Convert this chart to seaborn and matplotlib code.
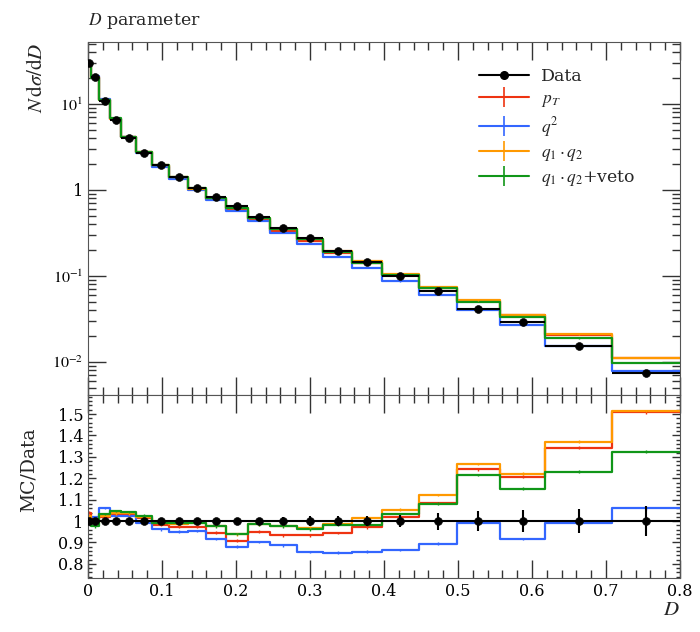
import numpy as np
import pandas as pd
import matplotlib
matplotlib.use('Agg')
import matplotlib.pyplot as plt
import seaborn as sns
from matplotlib.lines import Line2D
from matplotlib.ticker import MultipleLocator, LogLocator, FuncFormatter, NullFormatter

# D parameter: bin edges, data and MC/Data ratios
edges = [0, 0.004, 0.015, 0.03, 0.045, 0.065, 0.087, 0.11, 0.135, 0.16, 0.186, 0.216,
         0.246, 0.282, 0.318, 0.357, 0.397, 0.447, 0.498, 0.557, 0.618, 0.708, 0.80]
data_vals = [30.0, 20.6, 10.8, 6.5, 4.0, 2.7, 1.95, 1.42, 1.05, 0.83, 0.65, 0.485,
             0.361, 0.277, 0.195, 0.146, 0.100, 0.067, 0.041, 0.029, 0.0153, 0.0074]
data_relerr = [0.01, 0.01, 0.01, 0.01, 0.01, 0.01, 0.01, 0.01, 0.01, 0.012, 0.014, 0.016,
               0.018, 0.022, 0.023, 0.025, 0.03, 0.04, 0.048, 0.05, 0.057, 0.07]

ratio_pt = [1.039, 1.01, 1.02, 1.028, 1.028, 1.012, 0.981, 0.974, 0.974, 0.946, 0.908, 0.95,
            0.933, 0.933, 0.945, 0.97, 1.017, 1.085, 1.241, 1.207, 1.343, 1.508]
ratio_q2 = [1.02, 1.02, 1.061, 1.023, 1.023, 0.992, 0.961, 0.95, 0.953, 0.916, 0.88, 0.903,
            0.886, 0.856, 0.853, 0.857, 0.865, 0.895, 0.992, 0.916, 0.992, 1.059]
ratio_q1q2 = [1.023, 0.99, 1.023, 1.036, 1.036, 1.017, 0.989, 0.985, 0.989, 0.977, 0.938, 0.984,
              0.977, 0.969, 0.988, 1.012, 1.054, 1.121, 1.266, 1.222, 1.371, 1.514]
ratio_veto = [0.99, 0.975, 1.033, 1.048, 1.042, 1.025, 0.992, 0.99, 0.992, 0.975, 0.94, 0.985,
              0.975, 0.961, 0.983, 0.981, 1.033, 1.081, 1.215, 1.151, 1.231, 1.325]

labels = ['$p_T$', '$q^2$', r'$q_1\cdot q_2$', r'$q_1\cdot q_2$+veto']
colors = ['#ee3311', '#3366ff', '#ff9900', '#109618']
ratios = [ratio_pt, ratio_q2, ratio_q1q2, ratio_veto]

edges_a = np.array(edges)
centers = 0.5 * (edges_a[1:] + edges_a[:-1])
halfw = 0.5 * (edges_a[1:] - edges_a[:-1])
data_a = np.array(data_vals)
err_a = np.array(data_relerr)

rows = []
for lab, r in zip(labels, ratios):
    mc = data_a * np.array(r)
    for x, v, rr in zip(edges, list(mc) + [mc[-1]], list(r) + [r[-1]]):
        rows.append({'D': x, 'val': v, 'ratio': rr, 'series': lab})
df = pd.DataFrame(rows)

sns.set_style('ticks')
plt.rcParams['font.family'] = ['DejaVu Serif']
plt.rcParams['mathtext.fontset'] = 'stix'
plt.rcParams['xtick.direction'] = 'in'
plt.rcParams['ytick.direction'] = 'in'

fig = plt.figure(figsize=(7, 6.32), dpi=100)
ax = fig.add_axes([88 / 700, 1 - 395 / 632, 592 / 700, 353 / 632])
ax2 = fig.add_axes([88 / 700, 1 - 578 / 632, 592 / 700, 183 / 632], sharex=ax)

pal = dict(zip(labels, colors))

# main panel
sns.lineplot(data=df, x='D', y='val', hue='series', hue_order=labels, palette=pal,
             drawstyle='steps-post', estimator=None, sort=False, legend=False,
             linewidth=1.6, ax=ax)
for lab, c, r in zip(labels, colors, ratios):
    mc = data_a * np.array(r)
    ax.errorbar(centers, mc, yerr=mc * 0.006, fmt='none', ecolor=c, elinewidth=1)
ax.errorbar(centers, data_a, xerr=halfw, yerr=data_a * err_a, fmt='none',
            ecolor='black', elinewidth=1.5, zorder=5)
sns.scatterplot(x=centers, y=data_a, color='black', s=32, edgecolor='black',
                zorder=6, ax=ax)
ax.set_yscale('log')
ax.set_ylim(0.00413, 52.6)
ax.set_xlim(0, 0.8)


def logfmt(v, pos):
    k = int(round(np.log10(v)))
    if k == 0:
        return '1'
    return r'$10^{%d}$' % k


ax.yaxis.set_major_locator(LogLocator(base=10))
ax.yaxis.set_minor_locator(LogLocator(base=10, subs=np.arange(2, 10)))
ax.yaxis.set_major_formatter(FuncFormatter(logfmt))
ax.yaxis.set_minor_formatter(NullFormatter())
ax.tick_params(axis='x', labelbottom=False)
ax.set_xlabel('')
ax.set_ylabel(r'$N\,\mathrm{d}\sigma/\mathrm{d}D$', fontsize=15, loc='top')
ax.set_title(r'$D$ parameter', loc='left', fontsize=12.5, pad=12)

handles = [Line2D([], [], color='black', marker='o', ms=5.5, lw=1.5)]
for c in colors:
    handles.append(Line2D([], [], color=c, marker='|', ms=14, mew=1.2, lw=1.5))
ax.legend(handles, ['Data'] + labels, loc='upper left', bbox_to_anchor=(0.634, 0.97),
          frameon=False, fontsize=12.5, handlelength=2.9, labelspacing=0.3,
          handletextpad=0.7)

# ratio panel
sns.lineplot(data=df, x='D', y='ratio', hue='series', hue_order=labels, palette=pal,
             drawstyle='steps-post', estimator=None, sort=False, legend=False,
             linewidth=1.6, ax=ax2)
for c, r in zip(colors, ratios):
    ax2.errorbar(centers, r, yerr=0.006, fmt='none', ecolor=c, elinewidth=1)
ax2.axhline(1.0, color='black', lw=1.5, zorder=4)
ax2.errorbar(centers, np.ones_like(centers), yerr=err_a, fmt='none',
             ecolor='black', elinewidth=1.5, zorder=5)
sns.scatterplot(x=centers, y=np.ones_like(centers), color='black', s=32,
                edgecolor='black', zorder=6, ax=ax2)
ax2.set_ylim(0.734, 1.589)
ax2.set_xlim(0, 0.8)
ax2.yaxis.set_major_locator(MultipleLocator(0.1))
ax2.yaxis.set_minor_locator(MultipleLocator(0.02))
ax2.yaxis.set_major_formatter(FuncFormatter(lambda v, p: '%g' % round(v, 2)))
ax2.xaxis.set_major_locator(MultipleLocator(0.1))
ax2.xaxis.set_minor_locator(MultipleLocator(0.02))
ax2.xaxis.set_major_formatter(FuncFormatter(lambda v, p: '%g' % round(v, 2)))
ax2.set_xlabel('$D$', loc='right', fontsize=15, labelpad=0)
ax2.set_ylabel('MC/Data', fontsize=13.5)
ax2.yaxis.set_label_coords(-0.085, 0.59)

for a in (ax, ax2):
    a.tick_params(which='both', top=True, right=True, labelsize=11.5, width=1,
                  colors='#333333', labelcolor='black')
    a.tick_params(axis='x', which='major', length=13)
    a.tick_params(axis='x', which='minor', length=6)
    for s in a.spines.values():
        s.set_color('#555555')
ax.tick_params(axis='y', which='major', length=13)
ax.tick_params(axis='y', which='minor', length=6)
ax2.tick_params(axis='y', which='major', length=6)
ax2.tick_params(axis='y', which='minor', length=3)

fig.savefig('out.png', dpi=100)
